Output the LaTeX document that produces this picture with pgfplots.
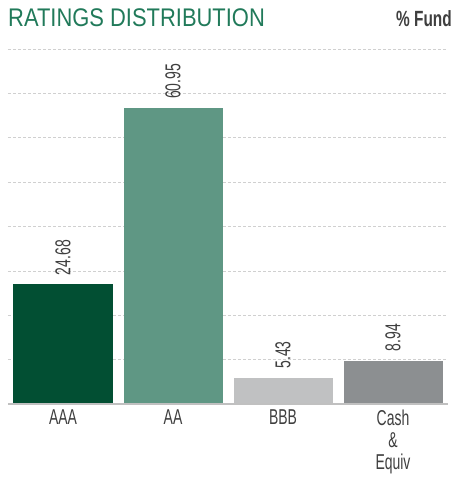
\documentclass[border=0pt]{standalone}
\usepackage{pgfplots}
\pgfplotsset{compat=1.18}
\usepackage{fontspec}
\setmainfont{Liberation Sans}
\newfontfamily\condfont[FakeStretch=0.65]{Liberation Sans}
\newfontfamily\boldcond[FakeStretch=0.7]{Liberation Sans}
\newfontfamily\titlefont[FakeStretch=0.86]{Liberation Sans}
\definecolor{titlegreen}{HTML}{217A5A}
\definecolor{cAAA}{HTML}{024F33}
\definecolor{cAA}{HTML}{5F9784}
\definecolor{cBBB}{HTML}{C0C1C2}
\definecolor{cCash}{HTML}{8C8F91}
\definecolor{gridc}{HTML}{D0D0D0}
\definecolor{txt}{HTML}{3F3F3F}
\begin{document}
\begin{tikzpicture}[x=1pt,y=1pt]
\path[use as bounding box] (0,0) rectangle (454,478);
\begin{axis}[
  at={(8pt,74pt)}, anchor=south west,
  scale only axis, width=440pt, height=355pt,
  xmin=-0.5, xmax=3.5, ymin=0, ymax=73.14,
  ybar, bar width=99pt, bar shift=0pt,
  axis line style={draw=none},
  ytick={0,9.1425,18.285,27.4275,36.57,45.7125,54.855,63.9975,73.14},
  yticklabels={},
  ymajorgrids, major grid style={gridc, dash pattern=on 3pt off 2pt, line width=0.6pt},
  major tick length=0pt,
  xtick={0,1,2,3},
  xticklabels={AAA,AA,BBB,{Cash\\\&\\Equiv}},
  xticklabel style={align=center, font=\condfont\fontsize{21.5}{22}\selectfont, text=txt, yshift=-2pt},
  /pgf/number format/assume math mode=true,
  /pgf/number format/.cd, fixed, fixed zerofill, precision=2, /pgfplots/.cd,
  nodes near coords,
  every node near coord/.append style={rotate=90, anchor=west, font=\condfont\fontsize{21.5}{22}\selectfont, text=txt, inner sep=0pt, xshift=9pt},
  clip=false,
]
\addplot[fill=cAAA, draw=none] coordinates {(0,24.68)};
\addplot[fill=cAA, draw=none] coordinates {(1,60.95)};
\addplot[fill=cBBB, draw=none] coordinates {(2,5.43)};
\addplot[fill=cCash, draw=none] coordinates {(3,8.94)};
\draw[color=gridc!80!gray, line width=2pt] (axis cs:-0.5,0) -- (axis cs:3.5,0);
\end{axis}
\node[anchor=base west, inner sep=0pt, text=titlegreen, font=\titlefont\fontsize{25.5}{28}\selectfont] at (8,451) {RATINGS DISTRIBUTION};
\node[anchor=base east, inner sep=0pt, text=txt, font=\boldcond\bfseries\fontsize{22}{22}\selectfont] at (452,451) {\% Fund};
\end{tikzpicture}
\end{document}
